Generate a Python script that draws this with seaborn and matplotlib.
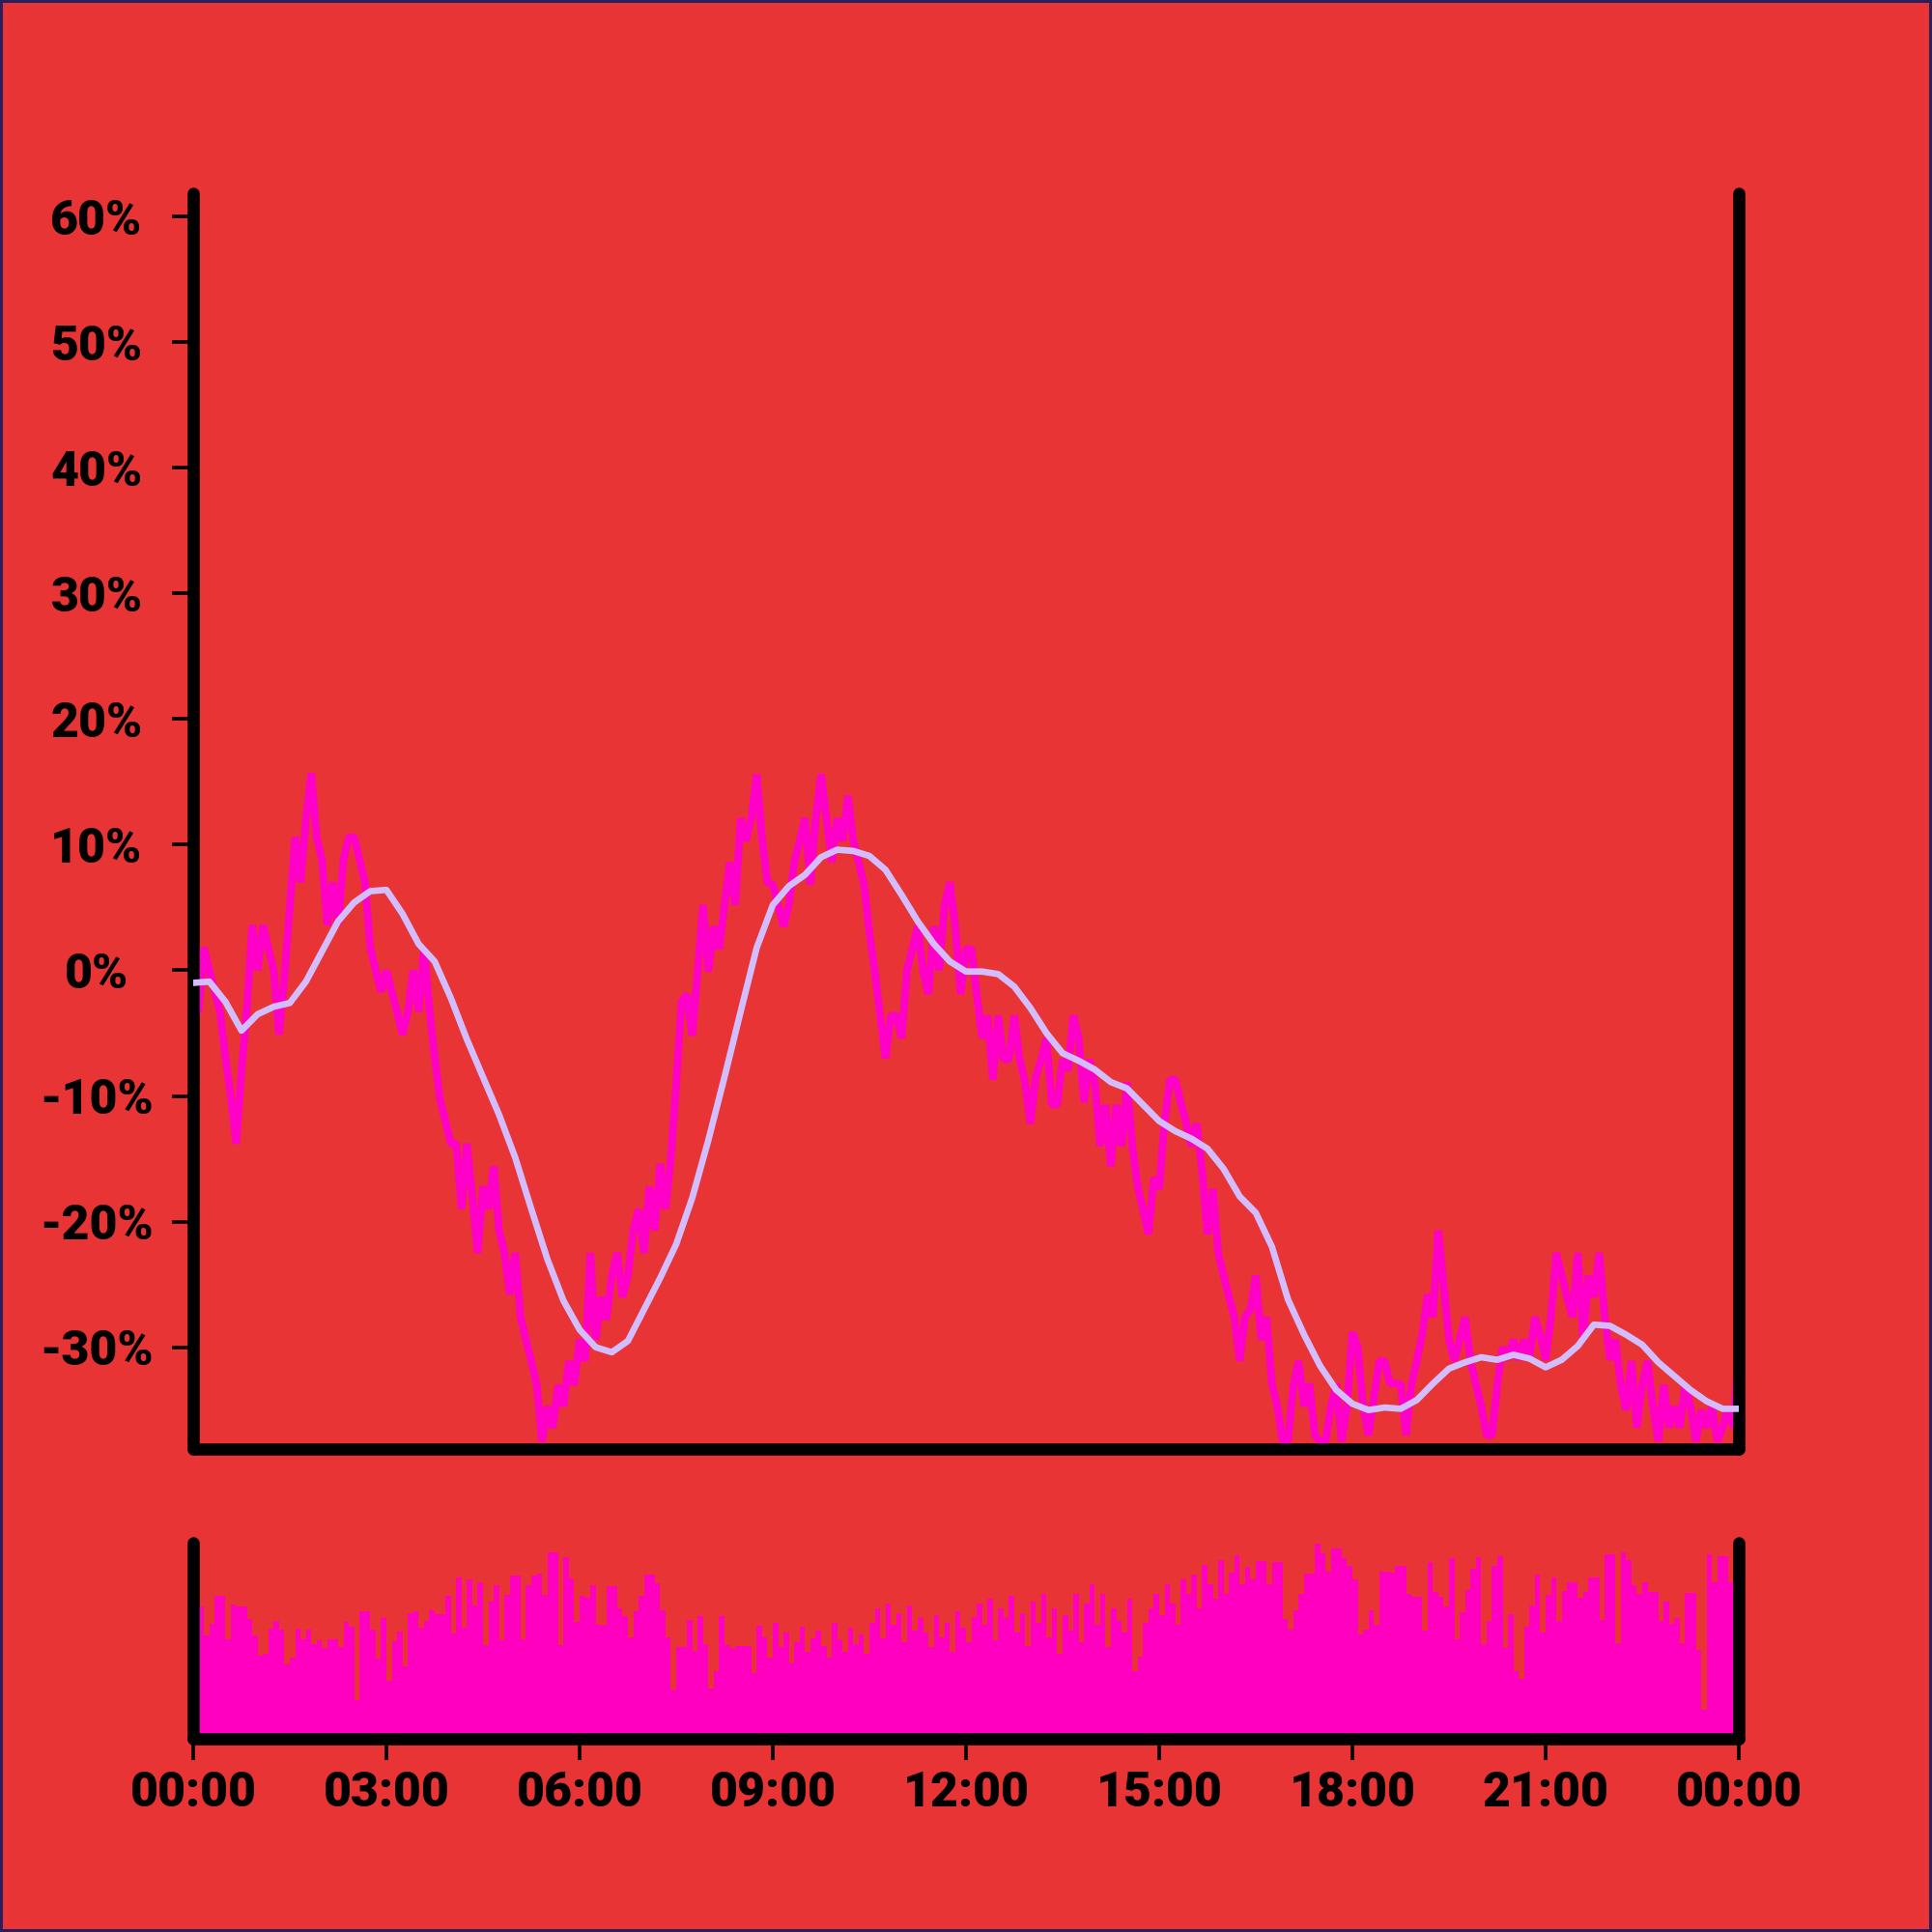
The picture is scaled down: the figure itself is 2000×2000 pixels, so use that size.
import matplotlib
matplotlib.use("Agg")
import matplotlib.pyplot as plt
import seaborn as sns
import numpy as np

# Percent change, one value every 5 minutes (00:00 -> 24:00)
change_pct = [
    -3.3, -3.3, 1.8, 0.0, -1.7, -3.3, -6.9, -10.0, -13.8, -8.0,
    -3.1, 3.6, 0.0, 3.6, 1.8, 0.0, -5.1, -0.5, 5.0, 10.6,
    7.0, 12.0, 15.7, 10.6, 8.8, 3.6, 7.0, 3.6, 8.8, 10.6,
    10.6, 8.8, 7.0, 1.8, 0.0, -1.7, 0.0, -1.7, -3.3, -5.1,
    -3.3, 0.0, -3.3, 1.8, -3.0, -6.9, -10.3, -12.0, -13.8, -13.8,
    -19.0, -13.8, -18.0, -22.5, -17.2, -19.0, -15.6, -20.7, -22.5, -25.8,
    -22.5, -27.6, -29.4, -31.1, -33.0, -37.5, -34.7, -36.4, -33.0, -34.7,
    -31.1, -33.0, -29.4, -31.1, -22.5, -29.4, -26.0, -27.8, -24.3, -22.5,
    -26.0, -24.3, -20.7, -19.0, -22.5, -17.2, -20.7, -15.4, -19.0, -15.0,
    -9.0, -2.5, -1.9, -5.2, 0.0, 5.2, -0.1, 3.5, 1.7, 5.2,
    8.6, 5.2, 12.1, 10.3, 12.1, 15.6, 10.5, 7.0, 6.8, 5.2,
    3.5, 5.2, 8.6, 10.3, 12.1, 6.8, 12.0, 15.6, 12.1, 8.6,
    12.1, 10.3, 13.9, 10.3, 8.6, 6.8, 3.0, -0.1, -3.6, -7.0,
    -3.6, -3.6, -5.4, 0.0, 1.7, 3.5, -0.1, -1.9, 3.5, 0.0,
    5.2, 7.0, 3.5, -1.9, 1.7, 1.7, -1.9, -5.4, -3.6, -8.7,
    -3.6, -7.1, -7.1, -3.6, -7.1, -8.9, -12.2, -8.5, -7.1, -5.4,
    -10.7, -10.7, -7.1, -8.0, -3.6, -5.4, -10.5, -7.1, -8.9, -14.0,
    -10.7, -15.6, -10.7, -14.0, -8.9, -14.0, -17.2, -19.1, -21.0, -16.5,
    -17.4, -12.0, -8.7, -8.7, -10.5, -12.1, -14.0, -12.2, -16.0, -21.0,
    -17.4, -22.5, -24.3, -26.0, -27.6, -31.1, -27.6, -27.0, -24.3, -29.4,
    -27.6, -32.9, -34.7, -37.5, -37.5, -33.0, -31.1, -34.7, -32.9, -37.0,
    -37.5, -37.5, -34.7, -32.9, -37.5, -34.7, -28.8, -30.0, -34.7, -37.0,
    -34.0, -31.1, -31.1, -32.9, -32.9, -32.9, -37.0, -33.0, -31.1, -29.0,
    -25.8, -27.6, -20.7, -25.0, -29.4, -31.1, -29.4, -27.6, -31.1, -32.9,
    -34.7, -37.0, -37.0, -33.0, -30.0, -31.0, -29.4, -31.0, -29.4, -31.0,
    -27.6, -29.0, -31.0, -27.6, -22.5, -24.3, -26.0, -27.6, -22.5, -29.4,
    -24.3, -26.0, -22.5, -27.6, -31.0, -29.4, -33.0, -35.0, -31.1, -36.4,
    -33.0, -31.1, -34.7, -37.5, -33.0, -36.4, -34.7, -36.4, -33.0, -34.7,
    -37.5, -35.0, -36.4, -34.7, -37.5, -36.4, -34.7, -36.4, -29.8,
]

# Smoothed trend, one value every 15 minutes
trend_pct = [
    -1.0, -0.9, -2.5, -4.8, -3.5, -2.9, -2.6, -0.9, 1.5, 3.9,
    5.4, 6.3, 6.4, 4.5, 2.1, 0.7, -2.2, -5.5, -8.5, -11.5,
    -14.9, -19.0, -23.0, -26.3, -28.6, -30.0, -30.4, -29.5, -27.0, -24.5,
    -21.8, -18.1, -13.5, -8.5, -3.3, 1.8, 5.2, 6.7, 7.6, 9.0,
    9.6, 9.5, 9.1, 8.0, 6.0, 3.9, 2.1, 0.7, -0.1, -0.1,
    -0.3, -1.3, -3.0, -5.0, -6.6, -7.2, -7.9, -8.9, -9.4, -10.7,
    -12.0, -12.8, -13.4, -14.2, -15.8, -18.0, -19.3, -22.0, -26.2, -29.0,
    -31.5, -33.4, -34.5, -35.0, -34.8, -34.9, -34.2, -32.9, -31.7, -31.2,
    -30.8, -31.0, -30.6, -30.9, -31.6, -31.0, -29.9, -28.2, -28.3, -29.0,
    -29.8, -31.2, -32.3, -33.4, -34.3, -34.9, -34.9,
]

# Volume per 5-minute slot
volume = [
    137, 137, 107, 119, 148, 148, 103, 139, 137, 137,
    124, 107, 86, 88, 114, 122, 113, 77, 84, 114,
    103, 113, 98, 102, 94, 103, 103, 95, 121, 116,
    40, 132, 132, 113, 83, 125, 60, 101, 111, 75,
    130, 132, 115, 122, 133, 129, 129, 148, 109, 167,
    115, 165, 138, 162, 97, 142, 159, 102, 149, 169,
    169, 103, 159, 169, 171, 149, 193, 193, 97, 188,
    166, 121, 148, 146, 159, 118, 118, 158, 158, 135,
    127, 105, 132, 148, 170, 170, 161, 133, 105, 51,
    95, 95, 123, 91, 127, 98, 52, 70, 127, 97,
    93, 96, 96, 96, 68, 117,
    105, 84, 120, 95, 110, 78, 100, 116, 90, 104,
    112, 96, 84, 120, 102, 90, 115, 98, 108, 88,
    120, 135, 104, 140, 118, 130, 100, 138, 112, 125,
    110, 95, 128, 105, 120, 90, 132, 115, 100, 126,
    140, 118, 145, 102, 135, 125, 148, 110, 130, 96,
    142, 120, 150, 105, 135, 88, 128, 112, 150, 100,
    140, 160, 118, 150, 95, 135, 122, 110, 145, 70,
    85, 120, 135, 150, 128, 160, 140, 118, 165, 150,
    170, 135, 180, 160, 145, 185, 150, 172, 190, 160,
    178, 165,
    184, 184, 160, 183, 183, 124, 113, 133, 150, 171,
    171, 202, 192, 173, 197, 197, 187, 179, 165, 108,
    113, 133, 118, 173, 173, 172, 179, 179, 150, 147,
    147, 112, 183, 152, 147, 137, 187, 103, 131, 154,
    176, 188, 98, 122, 179, 189, 94, 129, 70, 62,
    116, 138, 170, 110, 149, 167, 122, 153, 162, 162,
    146, 152, 167, 167, 123, 191, 191, 99, 193, 185,
    159, 150, 162, 152, 152, 122, 142, 119, 125, 99,
    151, 151, 92, 30, 191, 162, 189, 189, 162, 162,
]

y_ticks = [-30, -20, -10, 0, 10, 20, 30, 40, 50, 60]
y_labels = ["-30%", "-20%", "-10%", "0%", "10%", "20%", "30%", "40%", "50%", "60%"]
x_ticks = [0, 3, 6, 9, 12, 15, 18, 21, 24]
x_labels = ["00:00", "03:00", "06:00", "09:00", "12:00", "15:00", "18:00", "21:00", "00:00"]

BG = "#e83434"
MAGENTA = "#ff00c8"
BAR = "#ff00c0"
LAVENDER = "#d2bdff"

sns.set_style("ticks")
plt.rcParams["font.family"] = ["Roboto", "Liberation Sans", "DejaVu Sans"]
plt.rcParams["font.weight"] = "black"

change_hours = np.arange(len(change_pct)) / 12
trend_hours = np.arange(len(trend_pct)) / 4
bar_hours = (np.arange(len(volume)) + 0.5) / 12

fig = plt.figure(figsize=(20, 20), dpi=100, facecolor=BG)
fig.patch.set_edgecolor("#2a1f5c")
fig.patch.set_linewidth(3)

ax1 = fig.add_axes([0.1, 0.25, 0.8, 0.65], facecolor=BG)
ax2 = fig.add_axes([0.1, 0.1, 0.8, 0.1015], facecolor=BG)

# Top panel: raw change and its smoothed trend
sns.lineplot(x=change_hours, y=change_pct, color=MAGENTA, linewidth=5.6,
             ax=ax1, zorder=2, solid_joinstyle="bevel")
sns.lineplot(x=trend_hours, y=trend_pct, color=LAVENDER, linewidth=4.8,
             ax=ax1, zorder=3)

ax1.set_xlim(0, 24)
ax1.set_ylim(-38.1, 61.85)
ax1.set_yticks(y_ticks)
ax1.set_yticklabels(y_labels)
ax1.set_xticks([])

# Bottom panel: volume bars
ax2.bar(bar_hours, volume, width=1 / 12, color=BAR, linewidth=0)
ax2.set_xlim(0, 24)
ax2.set_ylim(0, 203)
ax2.set_yticks([])
ax2.set_xticks(x_ticks)
ax2.set_xticklabels(x_labels)

for ax in (ax1, ax2):
    ax.spines["top"].set_visible(False)
    for side in ("left", "right", "bottom"):
        ax.spines[side].set_linewidth(9)
        ax.spines[side].set_color("black")
        ax.spines[side].set_capstyle("round")
    ax.set_xlabel("")
    ax.set_ylabel("")
    ax.tick_params(axis="both", length=16, width=2.6, color="black",
                   labelsize=36, labelcolor="black")

ax1.tick_params(axis="y", pad=56)
for lbl in ax1.get_yticklabels():
    lbl.set_horizontalalignment("center")
    lbl.set_fontweight("black")
ax2.tick_params(axis="x", pad=8)
for lbl in ax2.get_xticklabels():
    lbl.set_fontweight("black")

fig.savefig("out.png", dpi=100, facecolor=BG, edgecolor=fig.patch.get_edgecolor())
